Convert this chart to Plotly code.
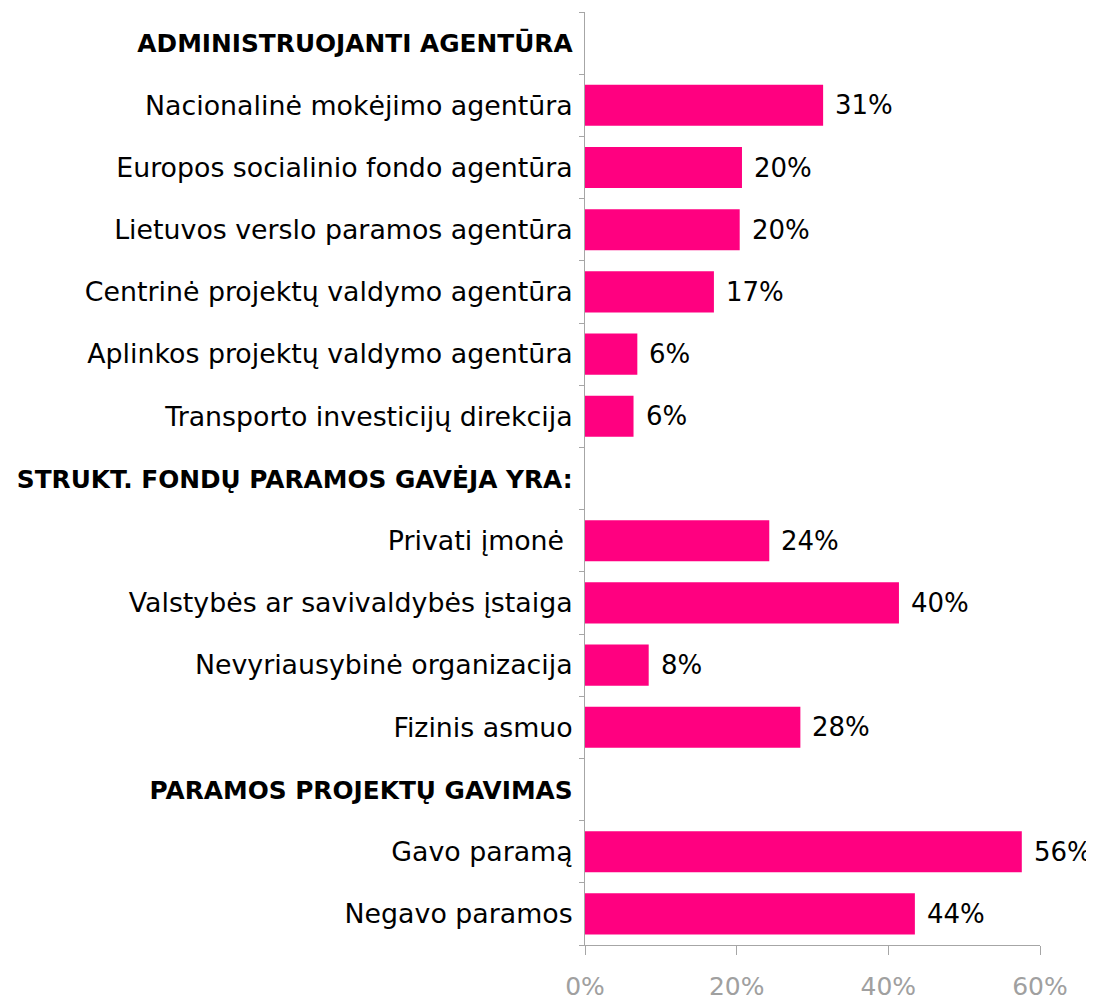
import plotly.graph_objects as go

categories = [
    "ADMINISTRUOJANTI AGENTŪRA",
    "Nacionalinė mokėjimo agentūra",
    "Europos socialinio fondo agentūra",
    "Lietuvos verslo paramos agentūra",
    "Centrinė projektų valdymo agentūra",
    "Aplinkos projektų valdymo agentūra",
    "Transporto investicijų direkcija",
    "STRUKT. FONDŲ PARAMOS GAVĖJA YRA:",
    "Privati įmonė ",
    "Valstybės ar savivaldybės įstaiga",
    "Nevyriausybinė organizacija",
    "Fizinis asmuo",
    "PARAMOS PROJEKTŲ GAVIMAS",
    "Gavo paramą",
    "Negavo paramos",
]
is_header = [True, False, False, False, False, False, False,
             True, False, False, False, False,
             True, False, False]
values = [None, 31.4, 20.7, 20.4, 17.0, 6.9, 6.4,
          None, 24.3, 41.4, 8.4, 28.4,
          None, 57.6, 43.5]
value_labels = [None, "31%", "20%", "20%", "17%", "6%", "6%",
                None, "24%", "40%", "8%", "28%",
                None, "56%", "44%"]
x_tickvals = [0, 20, 40, 60]
x_ticktext = ["0%", "20%", "40%", "60%"]

ids = [f"c{i}" for i in range(len(categories))]
ticktext = [
    f'<span style="font-size:24.8px"><b>{c}</b></span>' if h else c
    for c, h in zip(categories, is_header)
]

fig = go.Figure()
fig.add_trace(go.Bar(
    y=ids, x=values, orientation="h",
    marker=dict(color="#FF0080", line=dict(width=0)),
    hoverinfo="skip",
))

for cid, v, t in zip(ids, values, value_labels):
    if v is None:
        continue
    fig.add_annotation(x=v, y=cid, text=t, showarrow=False,
                       xanchor="left", yanchor="middle", xshift=10,
                       font=dict(family="DejaVu Sans", size=26, color="#000000"))

grey = "#A6A6A6"
fig.update_layout(
    width=1086, height=997,
    margin=dict(l=577, r=54, t=4, b=52),
    paper_bgcolor="white", plot_bgcolor="white",
    bargap=0.34,
    showlegend=False,
    font=dict(family="DejaVu Sans", size=26.8, color="#000000"),
    xaxis=dict(
        range=[0, 60], tickvals=x_tickvals, ticktext=x_ticktext,
        showgrid=False, zeroline=False,
        showline=True, linecolor=grey, linewidth=1,
        ticks="outside", ticklen=9, tickcolor=grey,
        tickfont=dict(family="DejaVu Sans", size=25, color="#A0A0A0"),
        ticklabelstandoff=10,
    ),
    yaxis=dict(
        type="category",
        categoryorder="array", categoryarray=ids,
        tickvals=ids, ticktext=ticktext,
        autorange="reversed",
        showgrid=False, zeroline=False,
        showline=True, linecolor=grey, linewidth=1,
        ticks="outside", ticklen=5, tickcolor=grey,
        tickson="boundaries",
        tickfont=dict(family="DejaVu Sans", size=26.8, color="#000000"),
        ticklabelstandoff=6,
    ),
)

fig.write_html("out.html")
